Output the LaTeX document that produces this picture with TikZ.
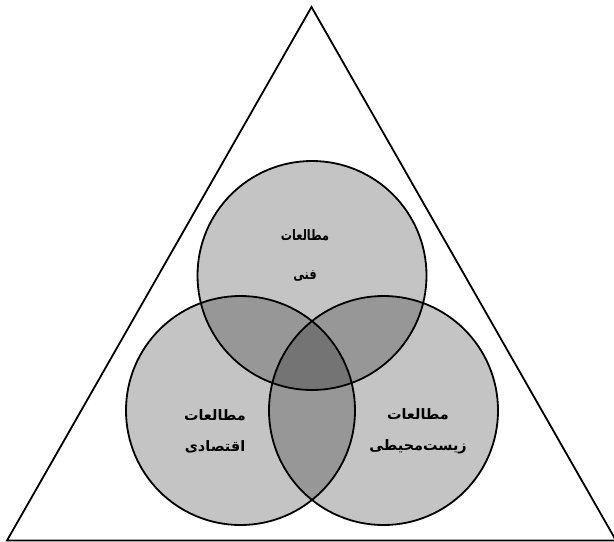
\documentclass[tikz,border=0pt]{standalone}
\usepackage{fontspec}
\newfontfamily\arabicfont[Script=Arabic]{DejaVu Sans}
\newfontfamily\arabicnarrow[Script=Arabic,FakeStretch=0.78]{DejaVu Sans}
\TeXXeTstate=1
\begin{document}
\begin{tikzpicture}[x=0.75pt,y=-0.75pt,
  outline/.style={draw=black,line width=1.35pt},
  area/.style={fill=black,fill opacity=0.23},
  label/.style={font=\arabicfont\bfseries\fontsize{10.8}{13}\selectfont,align=center,text=black},
  toplabel/.style={font=\arabicnarrow\bfseries\fontsize{10.8}{13}\selectfont,align=center,text=black}]
\useasboundingbox (0,0) rectangle (614,542);
% triangle
\coordinate (apex) at (311.5,7);
\coordinate (bl) at (7,540.5);
\coordinate (br) at (616,540.5);
\draw[outline,line join=miter] (apex) -- (br) -- (bl) -- cycle;
% circles
\coordinate (ct) at (312,275.5);
\coordinate (cl) at (240.5,410.5);
\coordinate (cr) at (383.5,410.5);
\fill[area] (ct) circle[radius=114.5];
\fill[area] (cl) circle[radius=114.5];
\fill[area] (cr) circle[radius=114.5];
\draw[outline] (ct) circle[radius=114.5];
\draw[outline] (cl) circle[radius=114.5];
\draw[outline] (cr) circle[radius=114.5];
% labels
\node[toplabel] (ltech) at (305,255.5) {\beginR مطالعات\endR\\[16pt]\beginR فنی\endR};
\node[label] (lecon) at (215,431) {\beginR مطالعات\endR\\[10pt]\beginR اقتصادی\endR};
\node[label] (lenv) at (418,431) {\beginR مطالعات\endR\\[10pt]\beginR زیست‌محیطی\endR};
\end{tikzpicture}
\end{document}
